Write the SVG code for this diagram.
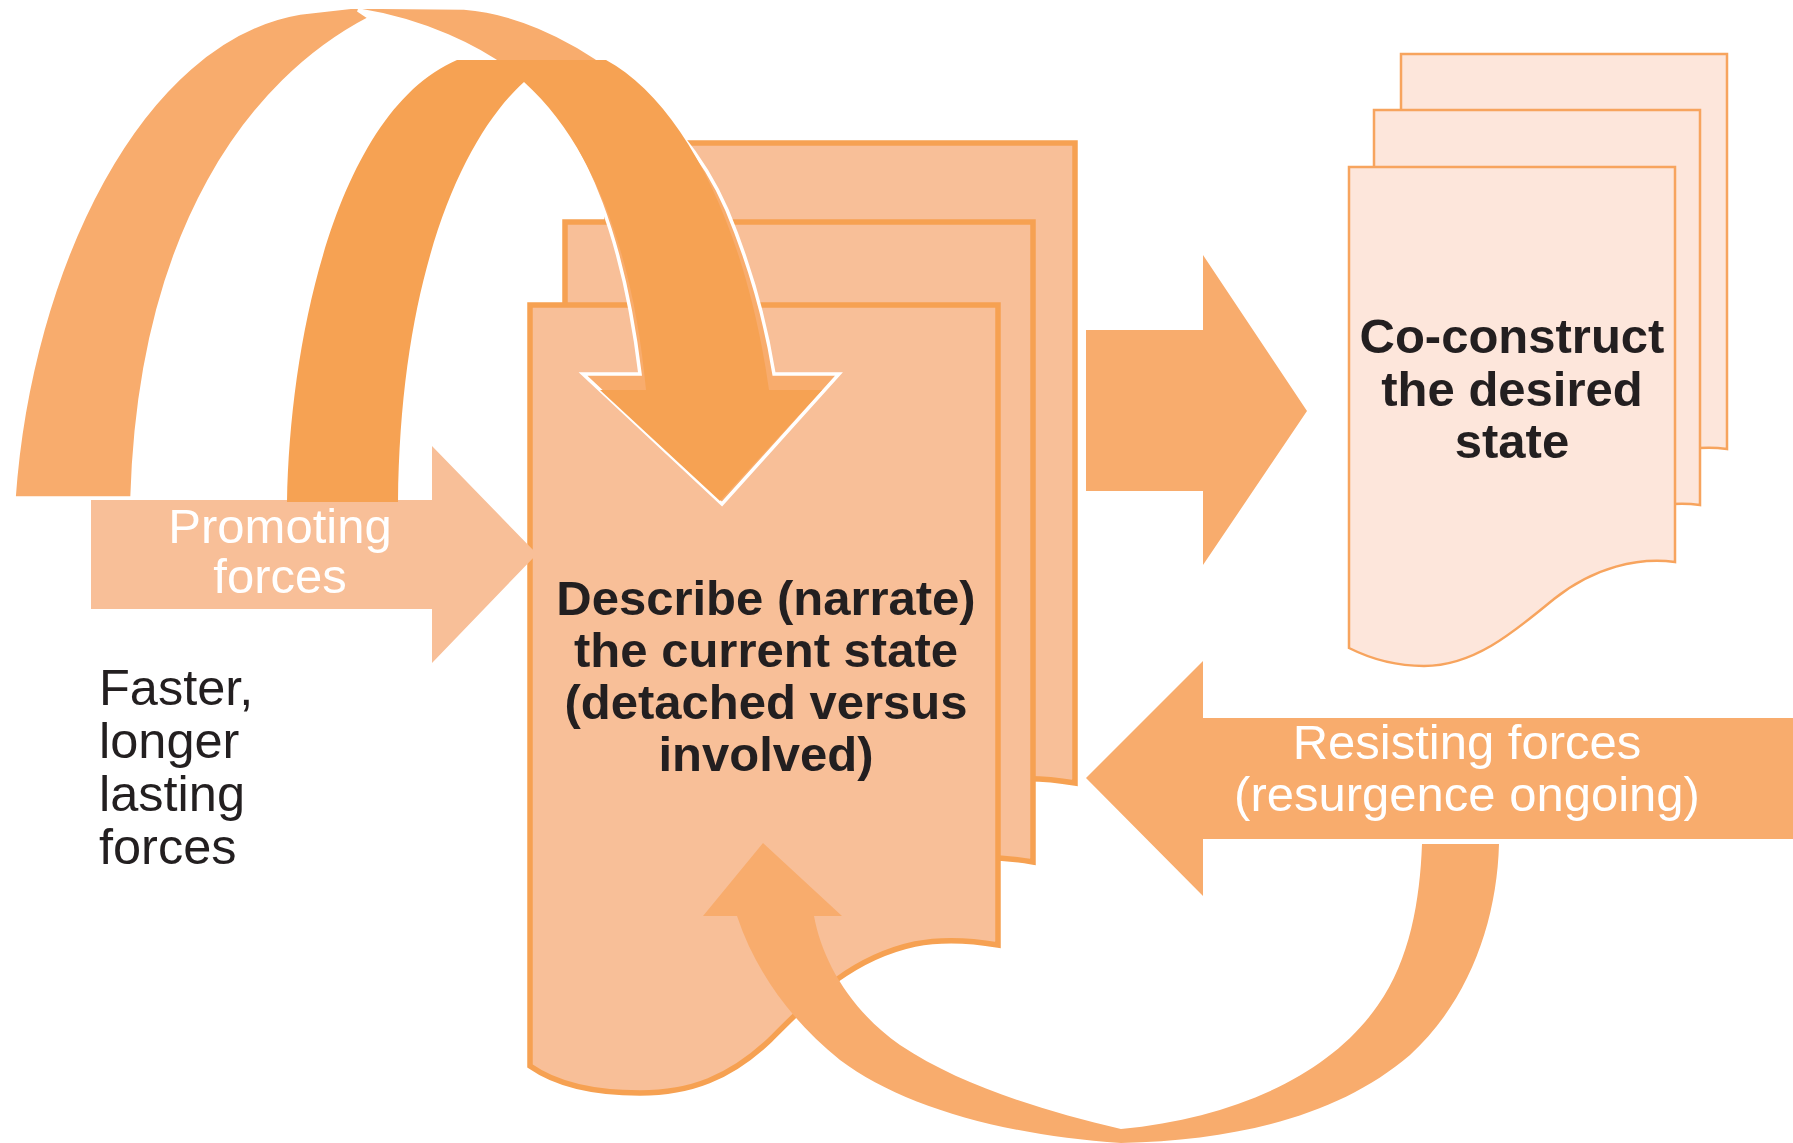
<svg xmlns="http://www.w3.org/2000/svg" width="1793" height="1143" viewBox="0 0 1793 1143">
<style>
.page{fill:#F8BF98;stroke:#F6A152;stroke-width:5.5}
.page2{fill:#FDE6DB;stroke:#F7A45E;stroke-width:2.5}
.arr{fill:#F8AC6D}
.arrL{fill:#F8BF98}
.arrD{fill:#F6A253}
.outline{stroke:#FFFFFF;stroke-width:3.5;stroke-linejoin:miter}
.t{font-family:"Liberation Sans",Arial,Helvetica,sans-serif;font-size:49px;text-anchor:middle}
.b{font-weight:bold;fill:#231F20}
.w{fill:#FFFFFF}
.plain{font-family:"Liberation Sans",Arial,Helvetica,sans-serif;font-size:50.5px;fill:#231F20}
</style>
<defs>
<path id="docA" d="M0,0 H468 V640 C445,636 415,633 385,639 C320,653 280,695 240,735 C200,773 160,788 110,788 C55,788 20,775 0,761 Z"/>
<path id="docB" d="M0,0 H326 V395 C290,390 245,400 205,432 C165,465 125,499 75,499 C45,499 18,490 0,481 Z"/>
</defs>
<rect width="1793" height="1143" fill="#FFFFFF"/>

<g id="node-describe">
<use href="#docA" class="page" transform="translate(607,143)"/>
<use href="#docA" class="page" transform="translate(565,222)"/>
<use href="#docA" class="page" transform="translate(530,305)"/>
<text class="t b"><tspan x="766" y="615">Describe (narrate)</tspan><tspan x="766" y="667">the current state</tspan><tspan x="766" y="719">(detached versus</tspan><tspan x="766" y="771">involved)</tspan></text>
</g>

<g id="node-coconstruct">
<use href="#docB" class="page2" transform="translate(1401,54)"/>
<use href="#docB" class="page2" transform="translate(1374,110)"/>
<use href="#docB" class="page2" transform="translate(1349,167)"/>
<text class="t b"><tspan x="1512" y="353">Co-construct</tspan><tspan x="1512" y="406">the desired</tspan><tspan x="1512" y="458">state</tspan></text>
</g>

<g id="label-faster">
<text class="plain"><tspan x="99" y="705">Faster,</tspan><tspan x="99" y="758">longer</tspan><tspan x="99" y="811">lasting</tspan><tspan x="99" y="864">forces</tspan></text>
</g>

<g id="connectors">
<path id="promoting-arrow" class="arrL" d="M91,500 H432 V446 L537,554 L432,663 V609 H91 Z"/>
<path id="loop-outer" class="arr outline" d="M14,498 C30,270 140,40 300,13 L353,7 L464,8 C560,15 680,100 727,210 C752,270 767,330 774,374 L839,374 L722,504 L583,374 L640,374 C625,250 590,140 524,82 C480,45 420,20 358,10 L370,18 C250,80 140,230 132,498 Z"/>
<path id="loop-inner" class="arrD" d="M287,502 C290,330 340,110 457,60 L606,60 C680,100 745,220 769,390 L822,390 L720,501 L600,390 L646,390 C635,270 600,150 524,82 C460,140 400,280 398,502 Z"/>
<path id="right-arrow" class="arr" d="M1086,330 H1203 V255 L1307,411 L1203,565 V491 H1086 Z"/>
<path id="resisting-arrow" class="arr" d="M1793,718 H1203 V661 L1086,778 L1203,896 V839 H1793 Z"/>
<path id="resurgence-arrow" class="arr" d="M703,916 L763,843 L842,916 L814,916 C822,960 850,1010 900,1045 C960,1085 1040,1110 1121,1129 C1235,1118 1330,1075 1378,1005 C1410,960 1420,900 1422,844 L1499,844 C1497,920 1470,1000 1410,1055 C1340,1115 1240,1140 1121,1143 C1000,1135 900,1105 840,1060 C790,1020 755,970 737,916 Z"/>
<text class="t w"><tspan x="280" y="543">Promoting</tspan><tspan x="280" y="593">forces</tspan></text>
<text class="t w"><tspan x="1467" y="759">Resisting forces</tspan><tspan x="1467" y="811">(resurgence ongoing)</tspan></text>
</g>
</svg>
